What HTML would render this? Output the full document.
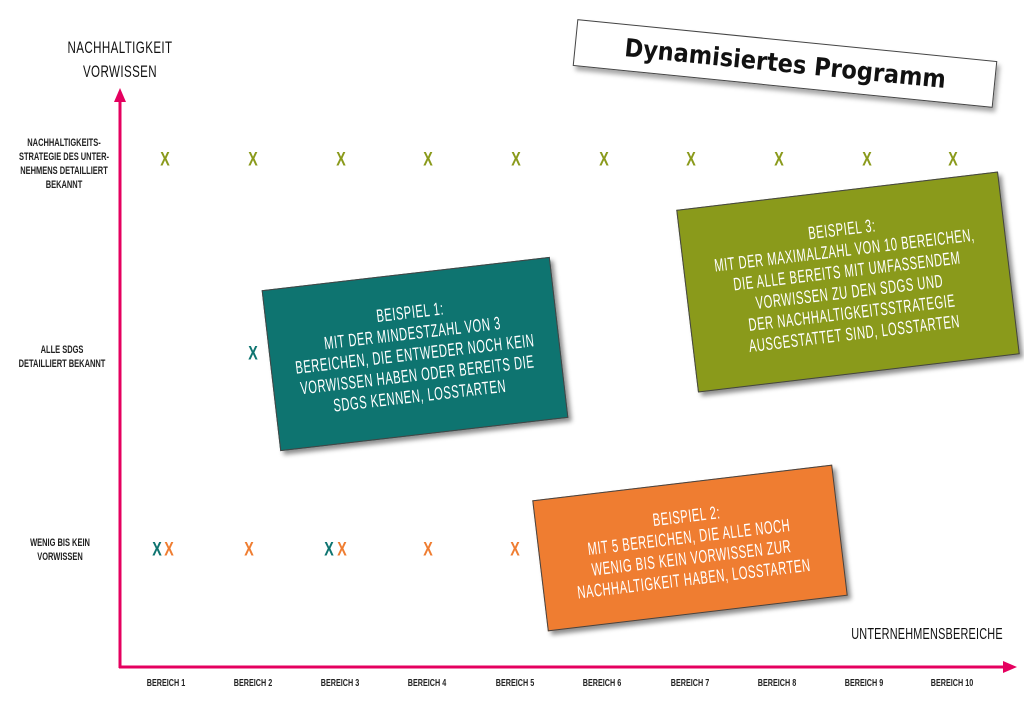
<!DOCTYPE html>
<html><head><meta charset="utf-8"><style>
body{margin:0;width:1024px;height:725px;background:#fff;position:relative;overflow:hidden;font-family:"Liberation Sans",sans-serif;}
.a{position:absolute;}
.lbl{position:absolute;text-align:center;color:#222;font-size:11px;line-height:14px;transform:translateX(-50%) scaleX(0.68);white-space:nowrap;font-weight:bold;}
.x{position:absolute;font-size:19px;font-weight:bold;transform:translate(-50%,-50%) scaleX(0.75);line-height:1;}
.g{color:#8a9a1b}.t{color:#0e7470}.o{color:#ef7d31}
.box{position:absolute;color:#fff;text-align:center;display:flex;align-items:center;justify-content:center;box-shadow:3px 4px 5px rgba(0,0,0,0.45);border:1px solid #444;box-sizing:border-box;}
.in{white-space:nowrap;font-size:18px;line-height:21px;letter-spacing:0.9px;transform:scaleX(0.62);}
.bx{position:absolute;font-size:10px;color:#222;transform:translateX(-50%) scaleX(0.72);white-space:nowrap;font-weight:bold;}
</style></head><body>
<div class="lbl" style="left:120px;top:36px;font-size:17px;line-height:24px;letter-spacing:0.6px;font-weight:normal;color:#111">NACHHALTIGKEIT<br>VORWISSEN</div>
<div class="lbl" style="left:64px;top:136px">NACHHALTIGKEITS-<br>STRATEGIE DES UNTER-<br>NEHMENS DETAILLIERT<br>BEKANNT</div>
<div class="lbl" style="left:62px;top:343px">ALLE SDGS<br>DETAILLIERT BEKANNT</div>
<div class="lbl" style="left:60px;top:536px">WENIG BIS KEIN<br>VORWISSEN</div>
<svg class="a" style="left:0;top:0" width="1024" height="725">
<line x1="120" y1="100" x2="120" y2="668" stroke="#e5005f" stroke-width="3"/>
<polygon points="120,88 114,102 126,102" fill="#e5005f"/>
<line x1="119" y1="667" x2="1005" y2="667" stroke="#e5005f" stroke-width="3"/>
<polygon points="1017,667 1003,661 1003,673" fill="#e5005f"/>
</svg>
<div class="lbl" style="left:927px;top:628px;font-size:16px;letter-spacing:0.3px;font-weight:normal;color:#111">UNTERNEHMENSBEREICHE</div>
<div class="bx" style="left:166px;top:678px">BEREICH 1</div>
<div class="bx" style="left:253px;top:678px">BEREICH 2</div>
<div class="bx" style="left:340px;top:678px">BEREICH 3</div>
<div class="bx" style="left:427px;top:678px">BEREICH 4</div>
<div class="bx" style="left:515px;top:678px">BEREICH 5</div>
<div class="bx" style="left:602px;top:678px">BEREICH 6</div>
<div class="bx" style="left:690px;top:678px">BEREICH 7</div>
<div class="bx" style="left:777px;top:678px">BEREICH 8</div>
<div class="bx" style="left:864px;top:678px">BEREICH 9</div>
<div class="bx" style="left:952px;top:678px">BEREICH 10</div>
<div class="x g" style="left:165px;top:160px">X</div>
<div class="x g" style="left:253px;top:160px">X</div>
<div class="x g" style="left:341px;top:160px">X</div>
<div class="x g" style="left:428px;top:160px">X</div>
<div class="x g" style="left:516px;top:160px">X</div>
<div class="x g" style="left:604px;top:160px">X</div>
<div class="x g" style="left:691px;top:160px">X</div>
<div class="x g" style="left:779px;top:160px">X</div>
<div class="x g" style="left:867px;top:160px">X</div>
<div class="x g" style="left:953px;top:160px">X</div>
<div class="x t" style="left:253px;top:354px">X</div>
<div class="x t" style="left:157px;top:550px">X</div>
<div class="x o" style="left:169px;top:550px">X</div>
<div class="x o" style="left:249px;top:550px">X</div>
<div class="x t" style="left:329px;top:550px">X</div>
<div class="x o" style="left:342px;top:550px">X</div>
<div class="x o" style="left:428px;top:550px">X</div>
<div class="x o" style="left:515px;top:550px">X</div>
<div class="box" style="left:574px;top:40px;width:422px;height:47px;background:#fff;color:#111;transform:rotate(5.7deg);box-shadow:3px 4px 5px rgba(0,0,0,0.35)"><div style="font-family:'DejaVu Sans',sans-serif;font-size:25px;font-weight:bold;white-space:nowrap;transform:scaleX(0.9)">Dynamisiertes Programm</div></div>
<div class="box" style="left:270px;top:273px;width:290px;height:162px;background:#0e7470;transform:rotate(-6.6deg)"><div class="in">BEISPIEL 1:<br>MIT DER MINDESTZAHL VON 3<br>BEREICHEN, DIE ENTWEDER NOCH KEIN<br>VORWISSEN HABEN ODER BEREITS DIE<br>SDGS KENNEN, LOSSTARTEN</div></div>
<div class="box" style="left:686px;top:190px;width:324px;height:184px;background:#8a9a1b;transform:rotate(-6.8deg)"><div class="in">BEISPIEL 3:<br>MIT DER MAXIMALZAHL VON 10 BEREICHEN,<br>DIE ALLE BEREITS MIT UMFASSENDEM<br>VORWISSEN ZU DEN SDGS UND<br>DER NACHHALTIGKEITSSTRATEGIE<br>AUSGESTATTET SIND, LOSSTARTEN</div></div>
<div class="box" style="left:539px;top:482px;width:302px;height:132px;background:#ef7d31;transform:rotate(-6.8deg)"><div class="in">BEISPIEL 2:<br>MIT 5 BEREICHEN, DIE ALLE NOCH<br>WENIG BIS KEIN VORWISSEN ZUR<br>NACHHALTIGKEIT HABEN, LOSSTARTEN</div></div>
</body></html>
